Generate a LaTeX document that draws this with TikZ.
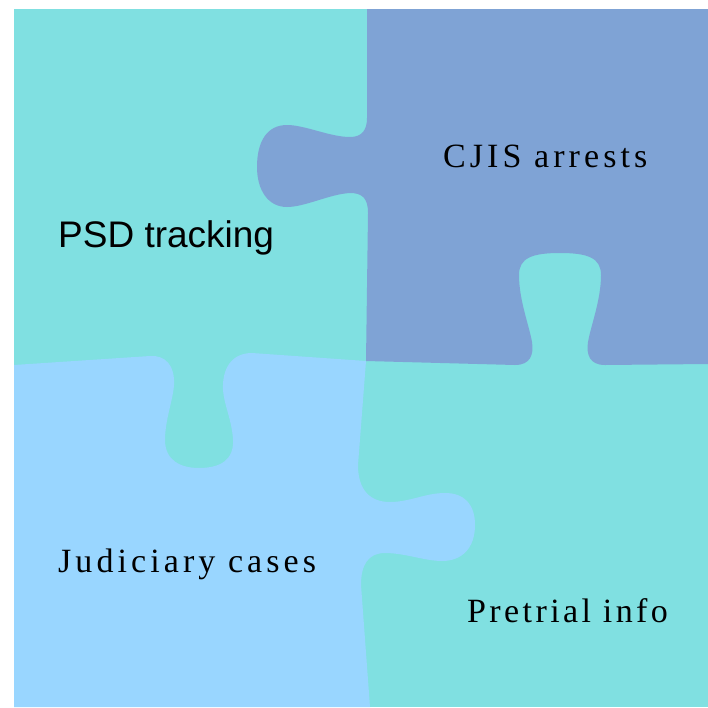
\documentclass[tikz,border=0pt]{standalone}
\usepackage{fontspec}
\setmainfont{Liberation Serif}
\newfontfamily\plainsans{Liberation Sans}
\newfontfamily\spacedserif[LetterSpace=12]{Liberation Serif}
\definecolor{tealpiece}{HTML}{80E0E1}
\definecolor{darkpiece}{HTML}{7FA3D5}
\definecolor{lightpiece}{HTML}{99D6FF}
\begin{document}
\begin{tikzpicture}[x=1pt,y=-1pt,
	sanslabel/.style={anchor=base west,inner sep=0pt,font=\plainsans\fontsize{37}{41}\selectfont},
	seriflabel/.style={anchor=base west,inner sep=0pt,font=\spacedserif\fontsize{34}{39}\selectfont}]
	\useasboundingbox (0,0) rectangle (708,707);
	% teal background = PSD and pretrial pieces
	\fill[tealpiece] (14,9) rectangle (708,707);
	% CJIS piece
	\fill[darkpiece] (367,9) -- (708,9) -- (708,364) -- (605,365)
		.. controls (590,365) and (586,355) .. (588,342)
		.. controls (591,325) and (601,300) .. (601,275)
		.. controls (601,258) and (588,253) .. (560,253)
		.. controls (532,253) and (519,258) .. (519,275)
		.. controls (519,300) and (529,325) .. (532,342)
		.. controls (534,355) and (530,365) .. (515,365)
		-- (366,361) -- (368,213)
		.. controls (368,198) and (362,193) .. (350,193)
		.. controls (330,194) and (305,207) .. (287,207)
		.. controls (268,207) and (257,190) .. (257,167)
		.. controls (257,140) and (268,125) .. (287,125)
		.. controls (305,125) and (330,137) .. (350,137)
		.. controls (362,137) and (367,130) .. (367,118) -- cycle;
	% judiciary piece
	\fill[lightpiece] (14,365) -- (150,356)
		.. controls (165,355) and (175,365) .. (174,385)
		.. controls (173,400) and (165,420) .. (165,440)
		.. controls (165,460) and (180,468) .. (199,468)
		.. controls (220,468) and (234,460) .. (233,440)
		.. controls (232,420) and (224,405) .. (223,390)
		.. controls (222,368) and (232,353) .. (252,353)
		-- (366,361) -- (358,465)
		.. controls (358,490) and (370,502) .. (390,502)
		.. controls (410,502) and (425,493) .. (445,493)
		.. controls (465,493) and (475,505) .. (475,525)
		.. controls (475,548) and (462,561) .. (442,561)
		.. controls (425,561) and (405,553) .. (385,553)
		.. controls (368,553) and (361,565) .. (361,585)
		-- (370,707) -- (14,707) -- cycle;
	\node[sanslabel] (psd) at (58,247) {PSD tracking};
	\node[seriflabel] (cjis) at (443,167) {CJIS arrests};
	\node[seriflabel] (judiciary) at (58,572) {Judiciary cases};
	\node[seriflabel] (pretrial) at (467,622) {\addfontfeature{LetterSpace=10}Pretrial info};
\end{tikzpicture}
\end{document}
